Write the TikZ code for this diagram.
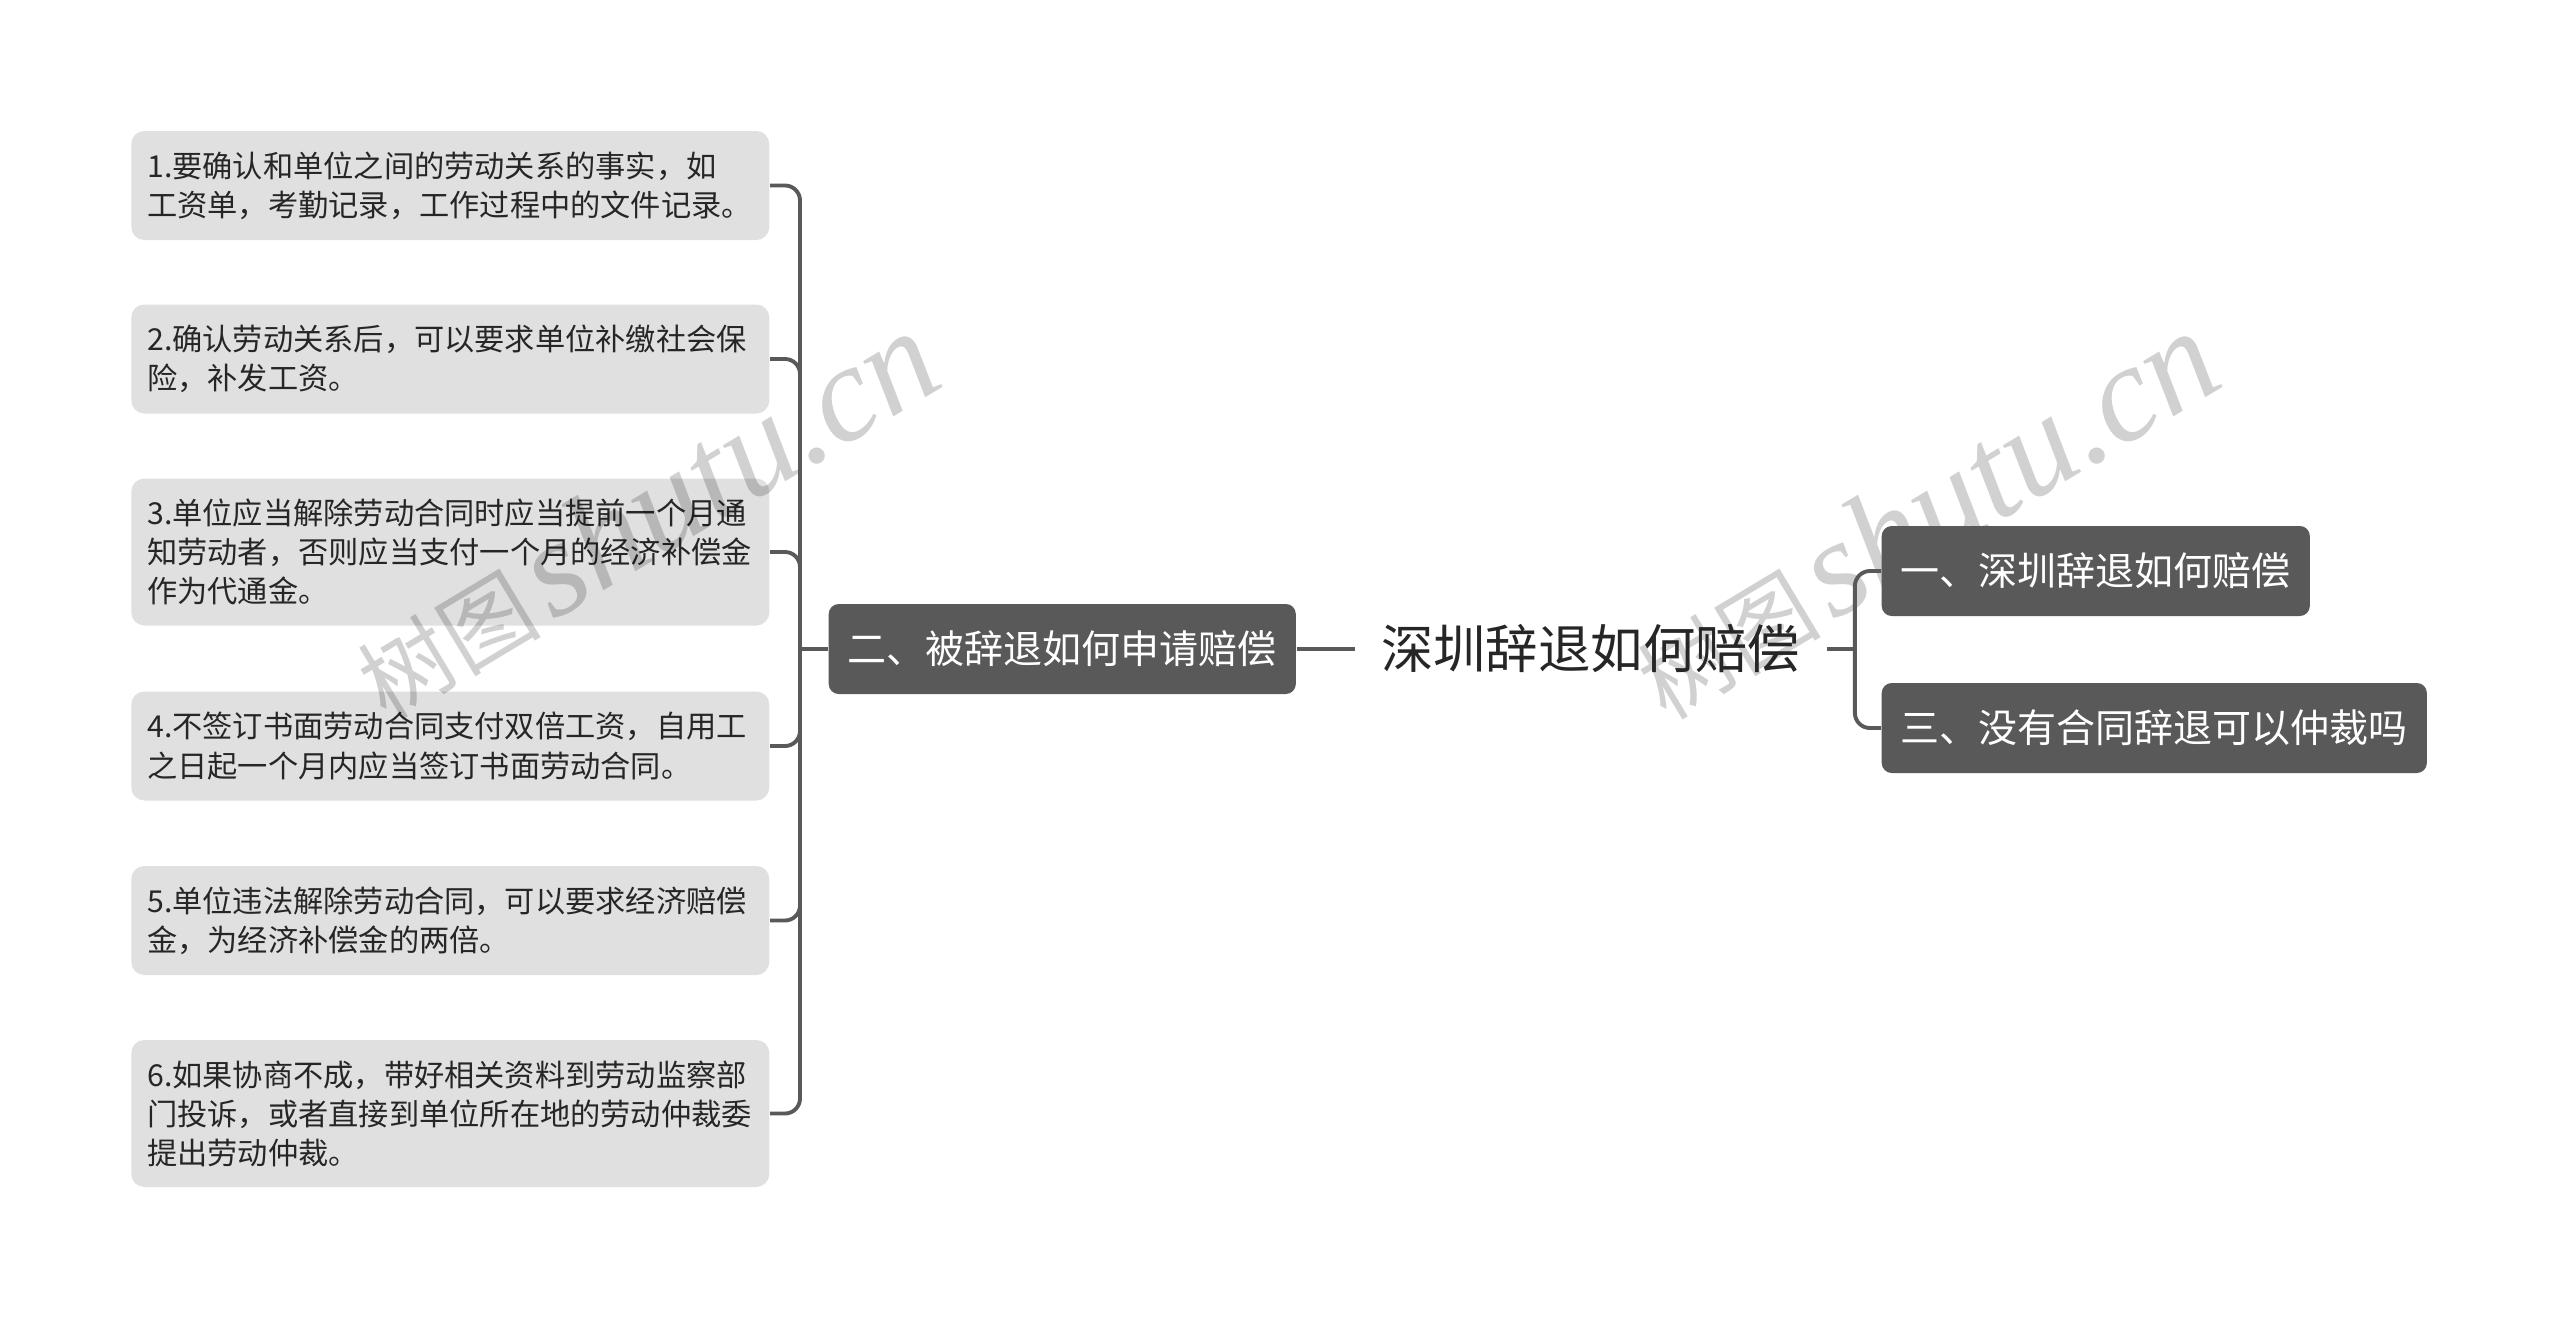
\documentclass[tikz,border=0pt]{standalone}
\usepackage{fontspec}
\newfontfamily\cjk{Noto Sans CJK SC}
\newfontfamily\wmserif{Liberation Serif}
\usetikzlibrary{positioning}
\definecolor{branch}{HTML}{595959}
\definecolor{leafbg}{HTML}{E0E0E0}
\definecolor{inktext}{HTML}{262626}

\begin{document}
\begin{tikzpicture}[
    leaf/.style={anchor=west, fill=leafbg, rounded corners=0.13cm, text width=6.06cm,
      inner xsep=0.16cm, inner ysep=0.1cm, minimum height=1.09cm, align=left,
      text=inktext, font=\cjk\fontsize{8.6pt}{11.1pt}\selectfont},
    topic/.style={anchor=west, fill=branch, rounded corners=0.1cm, text=white,
      minimum height=0.9cm, inner xsep=0.19cm, font=\cjk\fontsize{11.1pt}{13pt}\selectfont},
    link/.style={draw=branch, line width=1.1pt, rounded corners=0.15cm},
    wmark/.style={rotate=31, text=black, opacity=0.18}
  ]
      \fill[white] (0,0) rectangle (25.6,-13.19);
      \useasboundingbox (0,0) rectangle (25.6,-13.19);

      % Left column of details
      \node[leaf] (leafa) at (1.306,-1.855) {1.要确认和单位之间的劳动关系的事实，如\\工资单，考勤记录，工作过程中的文件记录。};
      \node[leaf] (leafb) at (1.306,-3.59) {2.确认劳动关系后，可以要求单位补缴社会保\\险，补发工资。};
      \node[leaf, minimum height=1.47cm] (leafc) at (1.306,-5.52) {3.单位应当解除劳动合同时应当提前一个月通\\知劳动者，否则应当支付一个月的经济补偿金\\作为代通金。};
      \node[leaf] (leafd) at (1.306,-7.46) {4.不签订书面劳动合同支付双倍工资，自用工\\之日起一个月内应当签订书面劳动合同。};
      \node[leaf] (leafe) at (1.306,-9.205) {5.单位违法解除劳动合同，可以要求经济赔偿\\金，为经济补偿金的两倍。};
      \node[leaf, minimum height=1.47cm] (leaff) at (1.306,-11.135) {6.如果协商不成，带好相关资料到劳动监察部\\门投诉，或者直接到单位所在地的劳动仲裁委\\提出劳动仲裁。};

      % Watermarks
      \node[wmark] (wml) at (6.45,-5.15) {{\cjk\fontsize{26pt}{26pt}\selectfont 树图} {\wmserif\itshape\fontsize{39pt}{39pt}\selectfont shutu.cn}};
      \node[wmark] (wmr) at (19.25,-5.15) {{\cjk\fontsize{26pt}{26pt}\selectfont 树图} {\wmserif\itshape\fontsize{39pt}{39pt}\selectfont shutu.cn}};

      % Main topics
      \node[topic] (sub2) at (8.28,-6.49) {二、被辞退如何申请赔偿};
      \node[right=0.58cm of sub2, inner xsep=0.26cm, text=inktext,
        font=\cjk\fontsize{14.9pt}{18pt}\selectfont] (root) {深圳辞退如何赔偿};
      \node[topic] (sub1) at (18.81,-5.71) {一、深圳辞退如何赔偿};
      \node[topic] (sub3) at (18.81,-7.28) {三、没有合同辞退可以仲裁吗};

      % Connectors
      \coordinate[left=0.28cm of sub2.west] (hubl);
      \coordinate[right=0.28cm of root.east] (hubr);
      \draw[link] (hubl) -- (sub2.west);
      \foreach \n in {leafa,leafb,leafc,leafd,leafe,leaff}
        \draw[link] (\n.east) -| (hubl);
      \draw[link] (sub2.east) -- (root.west);
      \draw[link] (root.east) -- (hubr);
      \foreach \n in {sub1,sub3}
        \draw[link] (hubr) |- (\n.west);
    \end{tikzpicture}
\end{document}
